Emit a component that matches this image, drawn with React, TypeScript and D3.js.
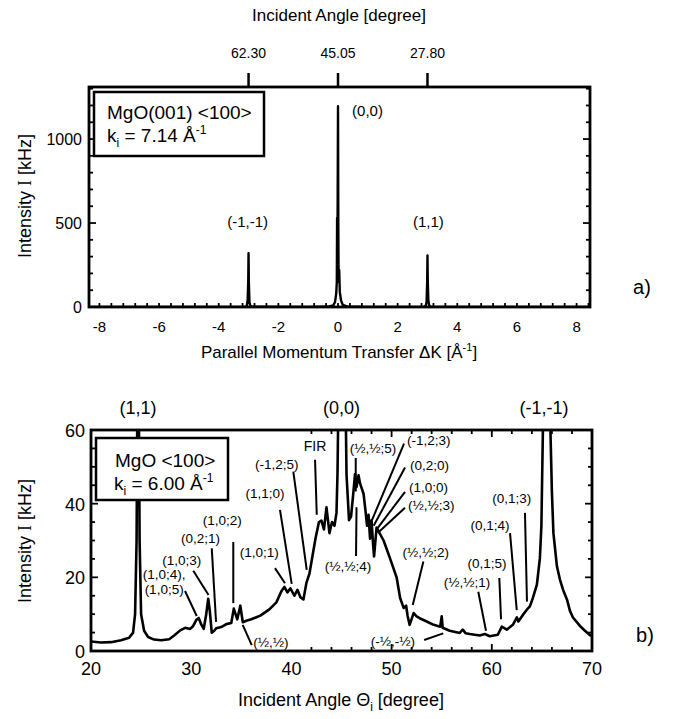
import React from 'react'
import * as d3 from 'd3'

// panel a) : specular + first order peaks vs parallel momentum transfer
const aK = [-8.35, -4, -3.12, -3.06, -3.03, -3.01, -3.0, -2.99, -2.97, -2.94, -2.88, -1, -0.3, -0.16, -0.1, -0.06, -0.04, -0.03, -0.02, -0.01, 0, 0.01, 0.02, 0.04, 0.06, 0.1, 0.16, 0.3, 1, 2.88, 2.94, 2.97, 2.99, 3.0, 3.01, 3.03, 3.06, 3.12, 4, 8.45]
const aI = [0.5, 1, 2, 6, 40, 150, 321, 150, 30, 6, 2, 1, 3, 10, 30, 80, 150, 530, 250, 700, 1195, 500, 150, 220, 90, 40, 12, 3, 1, 2, 6, 30, 150, 307, 150, 40, 6, 2, 1, 0.5]
const aYTicks = [0, 500, 1000]
const aXTicks = [-8, -6, -4, -2, 0, 2, 4, 6, 8]
const aTopK = [-3, 0, 3]
const aTopLabels = ['62.30', '45.05', '27.80']
const aPeakLabels = ['(-1,-1)', '(0,0)', '(1,1)']
const aPeakLabelK = [-3.03, 0.99, 3.03]
const aPeakLabelI = [500, 1160, 500]

// panel b) : angular scan at ki = 6.00 Å^-1
const bAngle = [20.0, 21.0, 22.0, 23.0, 23.8, 24.2, 24.4, 24.55, 24.65, 24.75, 24.85, 25.0, 25.3, 25.7, 26.3, 27.0, 27.8, 28.3, 28.9, 29.4, 29.9, 30.2, 30.5, 30.75, 31.0, 31.25, 31.5, 31.7, 31.85, 32.05, 32.3, 32.5, 33.0, 33.5, 34.0, 34.25, 34.6, 34.9, 35.15, 35.5, 36.0, 36.9, 37.8, 38.5, 39.0, 39.3, 39.6, 39.9, 40.3, 40.6, 40.9, 41.2, 41.5, 41.8, 42.1, 42.4, 42.75, 43.0, 43.25, 43.5, 43.8, 44.05, 44.3, 44.5, 44.6, 44.7, 45.4, 45.5, 45.75, 45.95, 46.15, 46.35, 46.5, 46.7, 46.85, 47.2, 47.4, 47.55, 47.7, 47.85, 48.0, 48.15, 48.25, 48.5, 49.2, 49.8, 50.5, 50.85, 51.2, 51.45, 51.6, 51.8, 52.2, 52.5, 52.8, 53.5, 54.2, 54.85, 55.0, 55.1, 55.8, 56.8, 57.1, 57.4, 57.8, 58.8, 59.3, 59.8, 60.6, 61.0, 61.5, 62.1, 62.5, 62.65, 63.1, 63.5, 63.8, 64.1, 64.5, 64.8, 64.95, 65.1, 65.2, 65.7, 65.85, 66.0, 66.15, 66.5, 66.8, 67.1, 67.5, 67.8, 68.1, 68.8, 69.3, 69.8, 70.0]
const bI = [2.6, 2.3, 2.4, 2.9, 3.6, 5, 10, 30, 80, 80, 30, 10, 5.5, 3.8, 3.1, 2.9, 3.2, 4.2, 5.6, 6.3, 6.0, 6.8, 8.4, 9.0, 7.2, 6.0, 10, 14.2, 11, 5.0, 5.5, 6.2, 6.5, 7.3, 7.6, 11.5, 8.6, 12.3, 7.8, 8.2, 8.6, 9.6, 11.3, 13.2, 16.2, 17.4, 15.9, 17.0, 15.0, 16.6, 14.6, 14.0, 18.5, 21.0, 25.7, 30.5, 35.0, 35.4, 33.0, 39.0, 32.0, 35.0, 34.0, 37.5, 48, 70, 70, 48, 35.5, 36.5, 42, 48, 44.5, 47.7, 45.5, 42.7, 38, 34, 37, 30.5, 35.5, 29, 25.7, 33.5, 30, 25.5, 20, 14.4, 11.7, 12.3, 9.5, 7.1, 10.3, 9.4, 8.9, 8.0, 7.1, 6.6, 9.4, 6.3, 5.5, 4.9, 5.8, 4.8, 4.6, 4.2, 4.6, 4.0, 4.4, 6.6, 5.8, 7.1, 9.1, 8.0, 9.8, 11.2, 12.1, 14.4, 18, 25.2, 34, 60, 80, 80, 60, 43, 32, 23, 19.4, 16.7, 14, 10.9, 9.1, 6.8, 5.5, 4.3, 4.0]
const bYTicks = [0, 20, 40, 60]
const bXTicks = [20, 30, 40, 50, 60, 70]
const bTopLabels = ['(1,1)', '(0,0)', '(-1,-1)']
const bTopAngle = [24.7, 45.0, 65.2]

// assignments: label text, label anchor (deg, kHz), leader line from -> to
type Ann = { t: string[]; lx: number; ly: number; anchor: string; x1: number; y1: number; x2: number; y2: number }
const bNotes: Ann[] = [
  { t: ['(1,0;4),', '(1,0;5)'], lx: 27.3, ly: 18.8, anchor: 'middle', x1: 29.38, y1: 16.3, x2: 30.55, y2: 9.5 },
  { t: ['(1,0;3)'], lx: 29.05, ly: 24.7, anchor: 'middle', x1: 30.21, y1: 21.8, x2: 31.73, y2: 15.2 },
  { t: ['(0,2;1)'], lx: 30.93, ly: 30.6, anchor: 'middle', x1: 32.05, y1: 27.9, x2: 32.48, y2: 7.9 },
  { t: ['(1,0;2)'], lx: 33.1, ly: 35.6, anchor: 'middle', x1: 34.2, y1: 29.6, x2: 34.2, y2: 13.0 },
  { t: ['(1,0;1)'], lx: 36.8, ly: 27.0, anchor: 'middle', x1: 38.36, y1: 22.5, x2: 39.36, y2: 18.4 },
  { t: ['(1,1;0)'], lx: 37.37, ly: 42.9, anchor: 'middle', x1: 38.86, y1: 38.3, x2: 40.03, y2: 18.2 },
  { t: ['(-1,2;5)'], lx: 38.53, ly: 50.8, anchor: 'middle', x1: 40.19, y1: 48.7, x2: 41.53, y2: 22.0 },
  { t: ['FIR'], lx: 42.36, ly: 55.6, anchor: 'middle', x1: 42.36, y1: 51.9, x2: 42.53, y2: 37.0 },
  { t: ['(½,½)'], lx: 36.2, ly: 2.45, anchor: 'start', x1: 35.14, y1: 7.1, x2: 36.04, y2: 1.6 },
  { t: ['(½,½;5)'], lx: 48.14, ly: 55.2, anchor: 'middle', x1: 46.42, y1: 52.4, x2: 46.42, y2: 43.3 },
  { t: ['(½,½;4)'], lx: 45.65, ly: 23.1, anchor: 'middle', x1: 46.45, y1: 25.8, x2: 46.5, y2: 39.0 },
  { t: ['(-1,2;3)'], lx: 51.54, ly: 57.2, anchor: 'start', x1: 51.24, y1: 56.3, x2: 48.01, y2: 35.3 },
  { t: ['(0,2;0)'], lx: 51.84, ly: 50.6, anchor: 'start', x1: 51.34, y1: 49.8, x2: 48.21, y2: 34.0 },
  { t: ['(1,0;0)'], lx: 51.74, ly: 44.6, anchor: 'start', x1: 51.34, y1: 43.2, x2: 48.47, y2: 32.9 },
  { t: ['(½,½;3)'], lx: 51.64, ly: 39.7, anchor: 'start', x1: 51.34, y1: 38.9, x2: 48.64, y2: 32.1 },
  { t: ['(½,½;2)'], lx: 53.4, ly: 26.8, anchor: 'middle', x1: 53.17, y1: 24.3, x2: 52.11, y2: 12.5 },
  { t: ['(-½,-½)'], lx: 50.14, ly: 2.6, anchor: 'middle', x1: 53.25, y1: 3.0, x2: 55.15, y2: 4.8 },
  { t: ['(½,½;1)'], lx: 57.53, ly: 18.8, anchor: 'middle', x1: 58.65, y1: 16.1, x2: 59.42, y2: 5.5 },
  { t: ['(0,1;5)'], lx: 59.52, ly: 23.9, anchor: 'middle', x1: 60.75, y1: 19.8, x2: 60.92, y2: 8.6 },
  { t: ['(0,1;4)'], lx: 59.82, ly: 34.3, anchor: 'middle', x1: 61.82, y1: 32.0, x2: 62.49, y2: 11.1 },
  { t: ['(0,1;3)'], lx: 61.99, ly: 41.5, anchor: 'middle', x1: 63.31, y1: 37.5, x2: 63.51, y2: 13.4 },
]

const FONT = 'Liberation Sans, Arial, Helvetica, sans-serif'
const SERIF = 'Liberation Serif, DejaVu Serif, serif'

export default function App() {
  // panel a scales
  const ax = d3.scaleLinear().domain([-8.35, 8.45]).range([89, 590])
  const ay = d3.scaleLinear().domain([0, 1310]).range([307, 87])
  // panel b scales
  const bx = d3.scaleLinear().domain([20, 70]).range([91, 592])
  const by = d3.scaleLinear().domain([0, 60]).range([651, 430])

  const aLine = d3.line<number>().x((d, i) => ax(aK[i])).y(d => ay(d))
  const bLine = d3.line<number>().x((d, i) => bx(bAngle[i])).y(d => by(d))

  const aMinorX = d3.range(-20, 22).map(i => i * 0.4).filter(v => v >= -8.1 && v <= 8.41)
  const aMinorY = d3.range(0, 14).map(i => i * 100)
  const bMinorX = d3.range(21, 35).map(i => i * 2).filter(v => v > 20 && v < 70)
  const bMinorY = d3.range(1, 12).map(i => i * 5)

  return (
    <svg width={674} height={719} style={{ position: 'absolute', left: 0, top: 0, background: '#fff' }} fontFamily={FONT}>
      <defs>
        <clipPath id="clipA"><rect x={89} y={87} width={501} height={220} /></clipPath>
        <clipPath id="clipB"><rect x={91} y={430} width={501} height={221} /></clipPath>
      </defs>

      {/* ---------- panel a ---------- */}
      <text x={339} y={21} fontSize={17} textAnchor="middle">Incident Angle [degree]</text>
      {aTopK.map((k, i) => (
        <g key={'at' + i}>
          <line x1={ax(k)} x2={ax(k)} y1={73} y2={87} stroke="#000" strokeWidth={2.5} />
          <text x={ax(k)} y={58} fontSize={14} textAnchor="middle">{aTopLabels[i]}</text>
        </g>
      ))}

      <g stroke="#000" strokeWidth={1.8}>
        {aMinorY.map(v => {
          const len = v % 500 === 0 ? 7 : 4
          return (
            <g key={'ay' + v}>
              <line x1={89} x2={89 + len} y1={ay(v)} y2={ay(v)} />
              <line x1={590} x2={590 - len} y1={ay(v)} y2={ay(v)} />
            </g>
          )
        })}
        {aMinorX.map(v => (
          <line key={'ax' + v} x1={ax(v)} x2={ax(v)} y1={307} y2={303} />
        ))}
      </g>

      <path d={aLine(aI) || ''} fill="none" stroke="#000" strokeWidth={2.4} strokeLinejoin="round" clipPath="url(#clipA)" />
      <rect x={89} y={87} width={501} height={220} fill="none" stroke="#000" strokeWidth={2.8} />

      {aYTicks.map(v => (
        <text key={'ayl' + v} x={82} y={ay(v) + 6} fontSize={16} textAnchor="end">{v}</text>
      ))}
      {aXTicks.map(v => (
        <text key={'axl' + v} x={ax(v)} y={332} fontSize={15} textAnchor="middle">{v}</text>
      ))}
      {aPeakLabels.map((t, i) => (
        <text key={'apl' + i} x={ax(aPeakLabelK[i])} y={ay(aPeakLabelI[i])} fontSize={15} textAnchor="middle" dominantBaseline="middle">{t}</text>
      ))}

      <rect x={94} y={92} width={170} height={64} fill="#fff" stroke="#000" strokeWidth={2.5} />
      <text x={107} y={119} fontSize={19}>MgO(001) &lt;100&gt;</text>
      <text x={107} y={142} fontSize={19}>
        k<tspan dy={5} fontSize={12}>i</tspan><tspan dy={-5}> = 7.14 Å</tspan><tspan dy={-8} fontSize={12}>-1</tspan>
      </text>

      <text transform="translate(31,196) rotate(-90)" fontSize={18} textAnchor="middle">
        Intensity <tspan fontFamily={SERIF}>I</tspan> [kHz]
      </text>
      <text x={339} y={358} fontSize={17} textAnchor="middle">
        Parallel Momentum Transfer ΔK [Å<tspan dy={-7} fontSize={11}>-1</tspan><tspan dy={7}>]</tspan>
      </text>
      <text x={642} y={294} fontSize={20} textAnchor="middle">a)</text>

      {/* ---------- panel b ---------- */}
      {bTopLabels.map((t, i) => (
        <text key={'btl' + i} x={bx(bTopAngle[i])} y={414} fontSize={18} textAnchor="middle">{t}</text>
      ))}

      <g stroke="#000" strokeWidth={1.8}>
        {bMinorY.map(v => {
          const len = v % 20 === 0 ? 7 : 4
          return (
            <g key={'by' + v}>
              <line x1={91} x2={91 + len} y1={by(v)} y2={by(v)} />
              <line x1={592} x2={592 - len} y1={by(v)} y2={by(v)} />
            </g>
          )
        })}
        {bMinorX.map(v => {
          const len = v % 10 === 0 ? 7 : 4
          return (
            <g key={'bx' + v}>
              <line x1={bx(v)} x2={bx(v)} y1={651} y2={651 - len} />
              <line x1={bx(v)} x2={bx(v)} y1={430} y2={430 + len} />
            </g>
          )
        })}
      </g>

      <path d={bLine(bI) || ''} fill="none" stroke="#000" strokeWidth={2.6} strokeLinejoin="round" clipPath="url(#clipB)" />

      <g stroke="#000" strokeWidth={2}>
        {bNotes.map((n, i) => (
          <line key={'bn' + i} x1={bx(n.x1)} y1={by(n.y1)} x2={bx(n.x2)} y2={by(n.y2)} />
        ))}
      </g>
      {bNotes.map((n, i) => (
        <text key={'bt' + i} x={bx(n.lx)} y={by(n.ly) + 5 - (n.t.length - 1) * 7.5} fontSize={n.t[0] === 'FIR' ? 14 : 13.5} textAnchor={n.anchor}>
          {n.t.map((s, j) => (
            <tspan key={j} x={bx(n.lx)} dy={j === 0 ? 0 : 15}>{s}</tspan>
          ))}
        </text>
      ))}

      <rect x={91} y={430} width={501} height={221} fill="none" stroke="#000" strokeWidth={2.8} />

      {bYTicks.map(v => (
        <text key={'byl' + v} x={85} y={by(v) + 7} fontSize={18} textAnchor="end">{v}</text>
      ))}
      {bXTicks.map(v => (
        <text key={'bxl' + v} x={bx(v)} y={675} fontSize={18} textAnchor="middle">{v}</text>
      ))}

      <rect x={96} y={438} width={132} height={62} fill="#fff" stroke="#000" strokeWidth={2.5} />
      <text x={115} y={467} fontSize={19}>MgO &lt;100&gt;</text>
      <text x={114} y={490} fontSize={19}>
        k<tspan dy={5} fontSize={12}>i</tspan><tspan dy={-5}> = 6.00 Å</tspan><tspan dy={-8} fontSize={12}>-1</tspan>
      </text>

      <text transform="translate(31,541) rotate(-90)" fontSize={18} textAnchor="middle">
        Intensity <tspan fontFamily={SERIF}>I</tspan> [kHz]
      </text>
      <text x={341} y={706} fontSize={18} textAnchor="middle">
        Incident Angle Θ<tspan dy={5} fontSize={12}>i</tspan><tspan dy={-5}> [degree]</tspan>
      </text>
      <text x={645} y={642} fontSize={20} textAnchor="middle">b)</text>
    </svg>
  )
}
